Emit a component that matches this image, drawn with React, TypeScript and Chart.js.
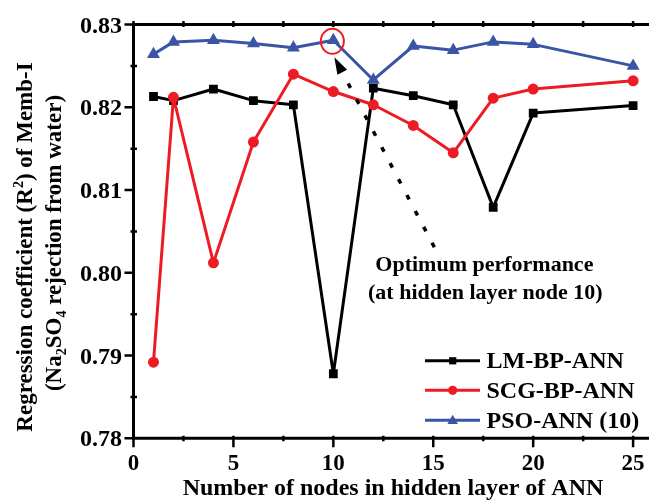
import React, { useEffect, useRef } from "react";
import { Chart, registerables } from "chart.js";

Chart.register(...registerables);

// Hidden-layer node counts tested
const nodes = [1, 2, 4, 6, 8, 10, 12, 14, 16, 18, 20, 25];
// R² for each training scheme
const lmBp = [0.8213, 0.8208, 0.8222, 0.8208, 0.8203, 0.7878, 0.8223, 0.8214, 0.8203, 0.8079, 0.8193, 0.8202];
const scgBp = [0.7892, 0.8212, 0.8012, 0.8158, 0.824, 0.8219, 0.8203, 0.8178, 0.8145, 0.8211, 0.8222, 0.8232];
const psoAnn = [0.8264, 0.8279, 0.8281, 0.8277, 0.8272, 0.8281, 0.8233, 0.8274, 0.8269, 0.8279, 0.8276, 0.825];

const seriesNames = ["LM-BP-ANN", "SCG-BP-ANN", "PSO-ANN (10)"];
const xTicks = [0, 5, 10, 15, 20, 25];
const xMinorTicks = [0, 2.5, 5, 7.5, 10, 12.5, 15, 17.5, 20, 22.5, 25];
const yTicks = [0.78, 0.79, 0.8, 0.81, 0.82, 0.83];
const yMinorTicks = [0.785, 0.795, 0.805, 0.815, 0.825];
const optimumNode = 10;
const noteLines = ["Optimum performance", "(at hidden layer node 10)"];
const xTitle = "Number of nodes in hidden layer of ANN";

const FONT = '"Liberation Serif", "Times New Roman", Times, serif';
const BLACK = "#000000";
const RED = "#ED1C24";
const BLUE = "#3A55A6";

type Seg = { t: string; s?: "sup" | "sub" };

function drawRich(ctx: CanvasRenderingContext2D, segs: Seg[], cx: number, baseline: number, size: number) {
  const big = `bold ${size}px ${FONT}`;
  const small = `bold ${Math.round(size * 0.62)}px ${FONT}`;
  let total = 0;
  for (const sg of segs) {
    ctx.font = sg.s ? small : big;
    total += ctx.measureText(sg.t).width;
  }
  let x = cx - total / 2;
  ctx.textAlign = "left";
  ctx.textBaseline = "alphabetic";
  for (const sg of segs) {
    ctx.font = sg.s ? small : big;
    const dy = sg.s === "sup" ? -size * 0.38 : sg.s === "sub" ? size * 0.2 : 0;
    ctx.fillText(sg.t, x, baseline + dy);
    x += ctx.measureText(sg.t).width;
  }
}

function drawMarker(ctx: CanvasRenderingContext2D, style: string, x: number, y: number, r: number, color: string) {
  ctx.fillStyle = color;
  ctx.beginPath();
  if (style === "rect") {
    ctx.rect(x - r, y - r, 2 * r, 2 * r);
  } else if (style === "circle") {
    ctx.arc(x, y, r, 0, Math.PI * 2);
  } else {
    ctx.moveTo(x, y - r * 1.1);
    ctx.lineTo(x + r * 1.05, y + r * 0.75);
    ctx.lineTo(x - r * 1.05, y + r * 0.75);
    ctx.closePath();
  }
  ctx.fill();
}

const decorPlugin = {
  id: "decor",
  afterDraw(chart: any) {
    const ctx: CanvasRenderingContext2D = chart.ctx;
    const { left, top, bottom } = chart.chartArea;
    const xs = chart.scales.x;
    const ys = chart.scales.y;
    ctx.save();

    // frame: left, bottom and top lines
    ctx.strokeStyle = BLACK;
    ctx.lineWidth = 3;
    ctx.lineCap = "butt";
    ctx.beginPath();
    ctx.moveTo(left, top - 1.5);
    ctx.lineTo(left, bottom + 1.5);
    ctx.moveTo(left - 1.5, bottom);
    ctx.lineTo(chart.width, bottom);
    ctx.moveTo(left - 1.5, top);
    ctx.lineTo(chart.width, top);
    ctx.stroke();

    // ticks
    ctx.lineWidth = 2.5;
    ctx.beginPath();
    for (const v of xMinorTicks) {
      const px = xs.getPixelForValue(v);
      const major = xTicks.includes(v);
      ctx.moveTo(px, bottom - 2.5);
      ctx.lineTo(px, bottom + (major ? 9 : 3));
      ctx.moveTo(px, top - 3.5);
      ctx.lineTo(px, top + 2.5);
    }
    for (const v of yTicks) {
      const py = ys.getPixelForValue(v);
      ctx.moveTo(left - 9, py);
      ctx.lineTo(left + 1.5, py);
    }
    for (const v of yMinorTicks) {
      const py = ys.getPixelForValue(v);
      ctx.moveTo(left - 3, py);
      ctx.lineTo(left + 3.5, py);
    }
    ctx.stroke();

    // tick labels
    ctx.fillStyle = BLACK;
    ctx.font = `bold 23px ${FONT}`;
    ctx.textAlign = "center";
    ctx.textBaseline = "alphabetic";
    for (const v of xTicks) {
      ctx.fillText(String(v), xs.getPixelForValue(v), bottom + 32);
    }
    ctx.font = `bold 24px ${FONT}`;
    ctx.textAlign = "right";
    for (const v of yTicks) {
      ctx.fillText(v.toFixed(2), left - 11.5, ys.getPixelForValue(v) + 8);
    }

    // axis titles
    drawRich(ctx, [{ t: xTitle }], 393, 495, 24);
    ctx.save();
    ctx.translate(23, 247);
    ctx.rotate(-Math.PI / 2);
    drawRich(ctx, [{ t: "Regression coefficient (R" }, { t: "2", s: "sup" }, { t: ") of Memb-I" }], 0, 9, 23);
    ctx.restore();
    ctx.save();
    ctx.translate(53, 243);
    ctx.rotate(-Math.PI / 2);
    drawRich(
      ctx,
      [{ t: "(Na" }, { t: "2", s: "sub" }, { t: "SO" }, { t: "4", s: "sub" }, { t: " rejection from water)" }],
      0,
      8,
      23
    );
    ctx.restore();

    // optimum marker: ring, dotted arrow and note
    const i = nodes.indexOf(optimumNode);
    const ox = xs.getPixelForValue(optimumNode);
    const oy = ys.getPixelForValue(psoAnn[i]);
    ctx.strokeStyle = RED;
    ctx.lineWidth = 2;
    ctx.beginPath();
    ctx.ellipse(ox - 1, oy + 1, 11.5, 12.5, 0, 0, Math.PI * 2);
    ctx.stroke();

    const tipX = ox + 1;
    const tipY = oy + 17;
    const tailX = ox + 101;
    const tailY = oy + 207;
    const ang = Math.atan2(tipY - tailY, tipX - tailX);
    const headLen = 17;
    const headHalf = 5.5;
    const bx = tipX - Math.cos(ang) * headLen;
    const by = tipY - Math.sin(ang) * headLen;
    ctx.strokeStyle = BLACK;
    ctx.lineWidth = 3.5;
    ctx.setLineDash([5, 13]);
    ctx.beginPath();
    ctx.moveTo(tailX, tailY);
    ctx.lineTo(bx, by);
    ctx.stroke();
    ctx.setLineDash([]);
    ctx.fillStyle = BLACK;
    ctx.beginPath();
    ctx.moveTo(tipX, tipY);
    ctx.lineTo(bx - Math.sin(ang) * headHalf, by + Math.cos(ang) * headHalf);
    ctx.lineTo(bx + Math.sin(ang) * headHalf, by - Math.cos(ang) * headHalf);
    ctx.closePath();
    ctx.fill();

    drawRich(ctx, [{ t: noteLines[0] }], ox + 151, oy + 231, 22);
    drawRich(ctx, [{ t: noteLines[1] }], ox + 152, oy + 259, 22);

    // legend
    const rows = [
      { name: seriesNames[0], color: BLACK, style: "rect", r: 3.6 },
      { name: seriesNames[1], color: RED, style: "circle", r: 4.6 },
      { name: seriesNames[2], color: BLUE, style: "triangle", r: 5 },
    ];
    const rowY = [bottom - 77.5, bottom - 48, bottom - 18];
    rows.forEach((row, k) => {
      const y = rowY[k];
      ctx.strokeStyle = row.color;
      ctx.lineWidth = 3;
      ctx.beginPath();
      ctx.moveTo(425, y);
      ctx.lineTo(480, y);
      ctx.stroke();
      drawMarker(ctx, row.style, 452.7, y, row.r, row.color);
      ctx.fillStyle = BLACK;
      ctx.font = `bold 24px ${FONT}`;
      ctx.textAlign = "left";
      ctx.textBaseline = "alphabetic";
      ctx.fillText(row.name, 486.5, y + 7.5);
    });

    ctx.restore();
  },
};

export default function App() {
  const canvasRef = useRef<HTMLCanvasElement | null>(null);

  useEffect(() => {
    const canvas = canvasRef.current;
    if (!canvas) return;
    const toPoints = (ys: number[]) => nodes.map((n, k) => ({ x: n, y: ys[k] }));
    const chart = new Chart(canvas, {
      type: "line",
      data: {
        datasets: [
          {
            label: seriesNames[0],
            data: toPoints(lmBp),
            borderColor: BLACK,
            backgroundColor: BLACK,
            borderWidth: 3,
            borderJoinStyle: "round",
            pointStyle: "rect",
            pointRadius: 6.2,
            pointBorderWidth: 0,
            order: 2,
          },
          {
            label: seriesNames[1],
            data: toPoints(scgBp),
            borderColor: RED,
            backgroundColor: RED,
            borderWidth: 3,
            borderJoinStyle: "round",
            pointStyle: "circle",
            pointRadius: 5.5,
            pointBorderWidth: 0,
            order: 1,
          },
          {
            label: seriesNames[2],
            data: toPoints(psoAnn),
            borderColor: BLUE,
            backgroundColor: BLUE,
            borderWidth: 3,
            borderJoinStyle: "round",
            pointStyle: "triangle",
            pointRadius: 7.5,
            pointBorderWidth: 0,
            order: 0,
          },
        ],
      },
      options: {
        responsive: false,
        animation: false,
        devicePixelRatio: 1,
        layout: { padding: { top: 24.5, right: 0, left: 0, bottom: 0 } },
        plugins: { legend: { display: false }, tooltip: { enabled: false } },
        elements: { line: { tension: 0 } },
        scales: {
          x: {
            type: "linear",
            min: 0,
            max: 25.42,
            grid: { display: false, drawTicks: false },
            border: { display: false },
            ticks: { display: false },
            afterFit: (s: any) => {
              s.height = 500 - 438.3;
            },
          },
          y: {
            type: "linear",
            min: 0.78,
            max: 0.83,
            grid: { display: false, drawTicks: false },
            border: { display: false },
            ticks: { display: false },
            afterFit: (s: any) => {
              s.width = 133.5;
            },
          },
        },
      },
      plugins: [decorPlugin],
    });
    return () => chart.destroy();
  }, []);

  return (
    <div style={{ position: "absolute", left: 0, top: 0, width: 649, height: 500, background: "#fff" }}>
      <canvas ref={canvasRef} width={649} height={500} style={{ display: "block" }} />
    </div>
  );
}
